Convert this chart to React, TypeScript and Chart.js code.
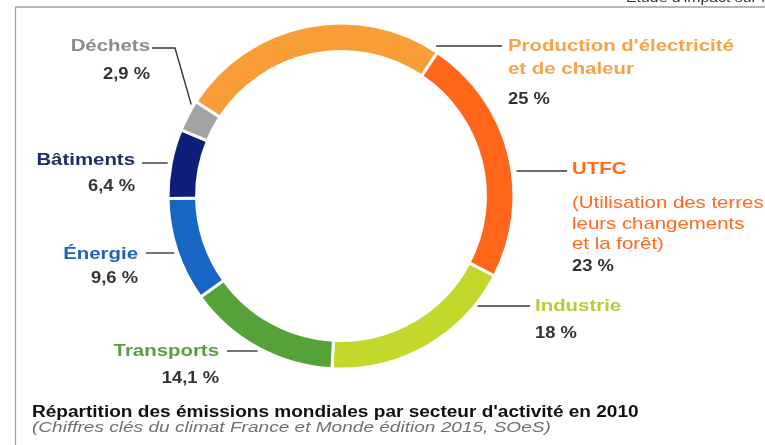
import React, { useEffect, useRef } from "react";
import { Chart, registerables } from "chart.js";

Chart.register(...registerables);

// ---- Data ----
const sectors = [
  "Production d'électricité et de chaleur",
  "UTFC",
  "Industrie",
  "Transports",
  "Énergie",
  "Bâtiments",
  "Déchets",
];
const nameLines = [
  ["Production d'électricité", "et de chaleur"],
  ["UTFC"],
  ["Industrie"],
  ["Transports"],
  ["Énergie"],
  ["Bâtiments"],
  ["Déchets"],
];
const subLines = [
  [],
  ["(Utilisation des terres,", "leurs changements", "et la forêt)"],
  [],
  [],
  [],
  [],
  [],
];
const shares = [25, 23, 18, 14.1, 9.6, 6.4, 2.9];
const sliceColors = ["#F99D36", "#FF661A", "#C3D82A", "#57A238", "#1766C6", "#0E1F77", "#A3A3A3"];
const nameColors = ["#F6A34A", "#FF6A1E", "#B5CC3A", "#5A9C3E", "#1F63B8", "#1E2C6C", "#8C8C8C"];
const titleText = "Répartition des émissions mondiales par secteur d'activité en 2010";
const sourceText = "(Chiffres clés du climat France et Monde édition 2015, SOeS)";
const cornerText = "Etude d'impact sur l'environnement";

// ---- Layout (offsets relative to the ring centre) ----
type Lay = { side: "l" | "r"; tx: number; ny: number; ly: number; vy: number; gap: number; tgap: number; kink?: number };
const layout: Lay[] = [
  { side: "r", tx: 167, ny: -151, ly: -150, vy: -98, gap: 12, tgap: 6 },
  { side: "r", tx: 231, ny: -28, ly: -25, vy: 69, gap: 6, tgap: 5 },
  { side: "r", tx: 194, ny: 109, ly: 110, vy: 136, gap: 5, tgap: 5 },
  { side: "l", tx: -122, ny: 154, ly: 155, vy: 181, gap: 10, tgap: 8 },
  { side: "l", tx: -203, ny: 57, ly: 57, vy: 81, gap: 5, tgap: 8 },
  { side: "l", tx: -206, ny: -37, ly: -33, vy: -11, gap: 5, tgap: 7 },
  { side: "l", tx: -191, ny: -151, ly: -148, vy: -123, gap: 0, tgap: 2, kink: -166 },
];

const FONT = "'Liberation Sans', Arial, sans-serif";
const NAME_SIZE = 17;
const NAME_SX = 1.2;
const VAL_SIZE = 17;
const VAL_SX = 1.08;
const SUB_SIZE = 17;
const SUB_LH = 20.5;
const NAME_LH = 23;

function drawText(
  ctx: CanvasRenderingContext2D,
  text: string,
  x: number,
  capCenterY: number,
  size: number,
  style: string,
  color: string,
  align: CanvasTextAlign,
  sx: number
) {
  ctx.save();
  ctx.font = `${style} ${size}px ${FONT}`;
  ctx.fillStyle = color;
  ctx.textAlign = align;
  ctx.textBaseline = "alphabetic";
  ctx.translate(x, capCenterY + 0.358 * size);
  ctx.scale(sx, 1);
  ctx.fillText(text, 0, 0);
  ctx.restore();
}

const fmt = (v: number) => String(v).replace(".", ",") + " %";

const labelPlugin = {
  id: "labels",
  beforeDraw(chart: any) {
    const ctx = chart.ctx as CanvasRenderingContext2D;
    ctx.save();
    ctx.fillStyle = "#ffffff";
    ctx.fillRect(0, 0, chart.width, chart.height);
    ctx.strokeStyle = "#b8b8b8";
    ctx.lineWidth = 2;
    ctx.beginPath();
    ctx.moveTo(15, 7);
    ctx.lineTo(chart.width, 7);
    ctx.stroke();
    ctx.strokeStyle = "#9c9c9c";
    ctx.lineWidth = 1.2;
    ctx.beginPath();
    ctx.moveTo(15.5, 7);
    ctx.lineTo(15.5, chart.height);
    ctx.stroke();
    ctx.restore();
    drawText(ctx, cornerText, 626, -3, 13, "normal", "#333333", "left", 1.22);
  },
  afterDatasetsDraw(chart: any) {
    const ctx = chart.ctx as CanvasRenderingContext2D;
    const meta = chart.getDatasetMeta(0);
    meta.data.forEach((arc: any, i: number) => {
      const L = layout[i];
      const cx = arc.x;
      const cy = arc.y;
      const R = arc.outerRadius - 1.5;
      const tx = cx + L.tx;
      const ly = cy + L.ly;
      ctx.save();
      ctx.strokeStyle = "#383838";
      ctx.lineWidth = 1.4;
      ctx.beginPath();
      if (L.kink !== undefined) {
        const a = arc.startAngle + 0.85 * (arc.endAngle - arc.startAngle);
        const px = cx + (R + 4) * Math.cos(a);
        const py = cy + (R + 4) * Math.sin(a);
        ctx.moveTo(tx + L.tgap, ly);
        ctx.lineTo(cx + L.kink, ly);
        ctx.lineTo(px, py);
      } else {
        const dy = L.ly;
        const dx = Math.sqrt(Math.max(R * R - dy * dy, 0));
        if (L.side === "l") {
          ctx.moveTo(tx + L.tgap, ly);
          ctx.lineTo(cx - dx - L.gap, ly);
        } else {
          ctx.moveTo(cx + dx + L.gap, ly);
          ctx.lineTo(tx - L.tgap, ly);
        }
      }
      ctx.stroke();
      ctx.restore();

      const align: CanvasTextAlign = L.side === "l" ? "right" : "left";
      nameLines[i].forEach((t, k) => {
        drawText(ctx, t, tx, cy + L.ny + k * NAME_LH, NAME_SIZE, "bold", nameColors[i], align, NAME_SX);
      });
      subLines[i].forEach((t, k) => {
        drawText(ctx, t, tx, cy + 6 + k * SUB_LH, SUB_SIZE, "normal", nameColors[i], align, 1.2);
      });
      drawText(ctx, fmt(shares[i]), tx, cy + L.vy, VAL_SIZE, "bold", "#333333", align, VAL_SX);
    });

    drawText(ctx, titleText, 32, 411, 16, "bold", "#111111", "left", 1.19);
    drawText(ctx, sourceText, 32, 427, 15, "italic", "#707070", "left", 1.27);
  },
};

export default function App() {
  const ref = useRef<HTMLCanvasElement | null>(null);
  useEffect(() => {
    if (!ref.current) return;
    const chart = new Chart(ref.current, {
      type: "doughnut",
      data: {
        labels: sectors,
        datasets: [
          {
            data: shares,
            backgroundColor: sliceColors,
            borderColor: "#ffffff",
            borderWidth: 3,
            hoverOffset: 0,
          },
        ],
      },
      options: {
        animation: false,
        responsive: false,
        rotation: -57,
        radius: 173,
        cutout: "83.5%",
        layout: { padding: { left: 0, right: 83, top: 0, bottom: 53 } },
        plugins: { legend: { display: false }, tooltip: { enabled: false }, title: { display: false } },
        events: [],
      },
      plugins: [labelPlugin],
    });
    return () => chart.destroy();
  }, []);
  return (
    <div style={{ position: "fixed", left: 0, top: 0, width: 765, height: 445, background: "#fff" }}>
      <canvas ref={ref} width={765} height={445} style={{ display: "block" }} />
    </div>
  );
}
